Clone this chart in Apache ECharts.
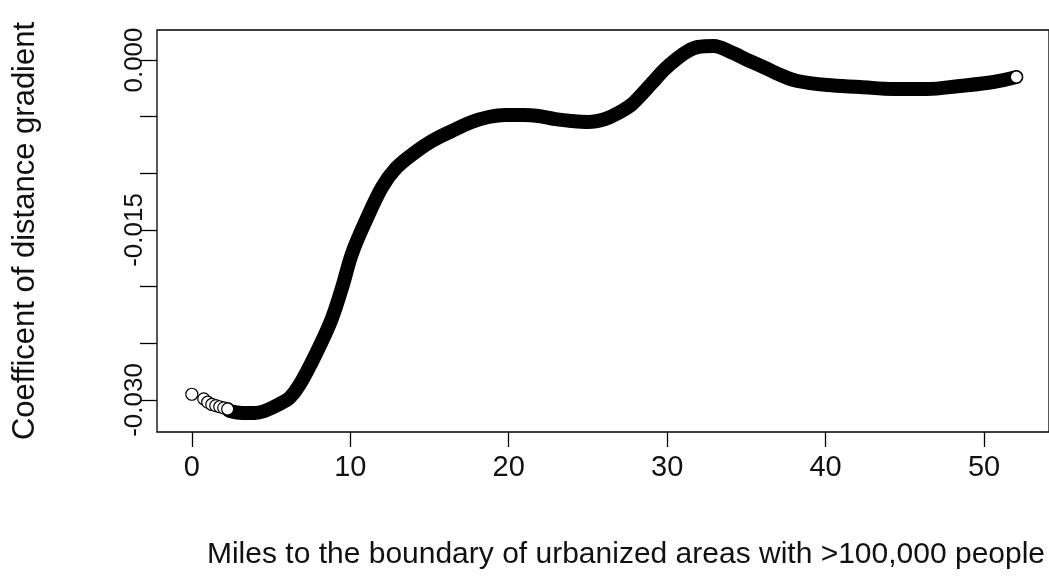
<!DOCTYPE html>
<html>
<head>
<meta charset="utf-8">
<title>Coefficent of distance gradient</title>
<script src="https://cdn.jsdelivr.net/npm/echarts@6/dist/echarts.min.js"></script>
<style>
html, body { margin: 0; padding: 0; background: #fff; }
#chart { width: 1049px; height: 586px; }
</style>
</head>
<body>
<div id="chart"></div>
<script>
// open circles that stay separate near 0 miles
const startX = [0, 0.75, 1.0, 1.26, 1.51, 1.76, 2.01, 2.26];
const startY = [-0.0295, -0.0299, -0.0302, -0.0304, -0.0305, -0.0306, -0.0307, -0.0308];

// dense part of the curve
const curveX = [2.26, 2.39, 3.21, 3.96, 4.59, 5.53, 6.16, 6.79, 7.79, 8.80, 9.49, 10.12, 11.00, 12.01, 12.89,
    14.02, 15.15, 16.40, 17.66, 18.73, 19.80, 20.93, 21.87, 22.94, 23.95, 25.02, 26.08, 26.90, 27.72,
    28.47, 29.10, 29.86, 30.67, 31.30, 31.93, 32.94, 34.01, 35.08, 36.08, 37.15, 38.22, 40.10, 42.18,
    44.31, 46.39, 48.46, 50.60, 52.04];
const curveY = [-0.0308, -0.03098, -0.03116, -0.03116, -0.03098, -0.03036, -0.02983, -0.02868, -0.02604, -0.02295, -0.02004, -0.01703, -0.01412, -0.01121, -0.00953,
    -0.00821, -0.00715, -0.00627, -0.00547, -0.00503, -0.00485, -0.00485, -0.00494, -0.00521, -0.00538, -0.00547, -0.00521, -0.00468, -0.00397,
    -0.00291, -0.00194, -0.00079, 0.00018, 0.00079, 0.00115, 0.00124, 0.00071, 0.0, -0.00062, -0.00132, -0.00185, -0.00221, -0.00238,
    -0.00256, -0.00256, -0.00229, -0.00194, -0.0015];

// last observation, drawn as a lone circle
const endX = [52.04];
const endY = [-0.0015];

const xTicks = [0, 10, 20, 30, 40, 50];
const yTicks = [-0.030, -0.025, -0.020, -0.015, -0.010, -0.005, 0.000];
const yLabels = [-0.030, -0.015, 0.000];

const zip = (xs, ys) => xs.map((x, i) => [x, ys[i]]);

const chart = echarts.init(document.getElementById('chart'), null, { renderer: 'canvas' });
const font = 'Liberation Sans, Arial, sans-serif';

const option = {
    backgroundColor: '#fff',
    animation: false,
    grid: {
        left: 157, top: 30, right: -4, bottom: 154,
        show: true, borderColor: '#000', borderWidth: 1.3, backgroundColor: 'transparent'
    },
    xAxis: {
        type: 'value',
        min: -2.2, max: 54.1,
        name: 'Miles to the boundary of urbanized areas with >100,000 people',
        nameLocation: 'middle',
        nameGap: 108,
        nameTextStyle: { color: '#111', fontSize: 30, fontFamily: font, verticalAlign: 'top', padding: [0, 0, 0, 46] },
        axisLine: { show: false, onZero: false },
        splitLine: { show: false },
        axisTick: { show: true, inside: false, length: 15, customValues: xTicks, lineStyle: { color: '#000', width: 1.3 } },
        axisLabel: { color: '#111', fontSize: 29, fontFamily: font, margin: 21, customValues: xTicks }
    },
    yAxis: {
        type: 'value',
        min: -0.03283, max: 0.00265,
        name: 'Coefficent of distance gradient',
        nameLocation: 'middle',
        nameRotate: 90,
        nameGap: 116,
        nameTextStyle: { color: '#111', fontSize: 31, fontFamily: font },
        axisLine: { show: false, onZero: false },
        splitLine: { show: false },
        axisTick: { show: true, inside: false, length: 17, customValues: yTicks, lineStyle: { color: '#000', width: 1.3 } },
        axisLabel: {
            color: '#111', fontSize: 26, fontFamily: font, margin: 9, rotate: 90,
            customValues: yLabels,
            formatter: v => v.toFixed(3)
        }
    },
    series: [
        {
            type: 'line',
            data: zip(curveX, curveY),
            smooth: 0.35,
            showSymbol: false,
            lineStyle: { color: '#000', width: 14, cap: 'round', join: 'round' },
            z: 2
        },
        {
            type: 'scatter',
            data: zip(startX, startY).concat(zip(endX, endY)),
            symbol: 'circle',
            symbolSize: 12,
            itemStyle: { color: '#fff', borderColor: '#000', borderWidth: 1.2, opacity: 1 },
            z: 3
        }
    ]
};

chart.setOption(option);
</script>
</body>
</html>
